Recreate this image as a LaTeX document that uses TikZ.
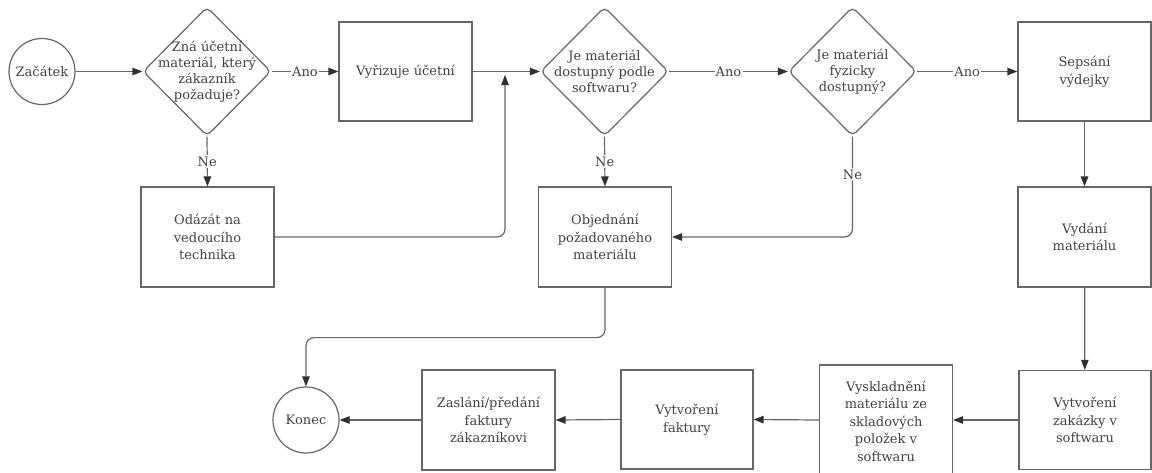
\documentclass[tikz,border=0pt]{standalone}
\usepackage{fontspec}
\setmainfont{DejaVu Serif}
\usetikzlibrary{arrows.meta,shapes.geometric,calc}
\definecolor{edge}{HTML}{666666}
\definecolor{ink}{HTML}{404040}
\definecolor{tipc}{HTML}{303030}

\begin{document}
\begin{tikzpicture}[x=1pt,y=-1pt,
  font=\fontsize{13}{17.5}\selectfont, text=ink,
  box/.style={draw=edge, line width=1.2pt, minimum width=133pt, minimum height=100pt,
    inner sep=2pt, align=center},
  dia/.style={draw=edge, line width=1.2pt, diamond, minimum width=128pt,
    minimum height=129pt, inner sep=0pt, rounded corners=5pt},
  dtext/.style={align=center, font=\fontsize{13}{16}\selectfont},
  term/.style={draw=edge, line width=1.2pt, circle, minimum size=66pt, inner sep=0pt},
  flow/.style={draw=edge, line width=1.2pt,
    -{Triangle[length=10pt,width=7.5pt,fill=tipc,color=tipc]}},
  lbl/.style={fill=white, inner sep=1.2pt}
]
\useasboundingbox (0,0) rectangle (1152,472);

% top row
\node[term] (start) at (42,71.5) {Začátek};
\node[dia] (d1) at (207,71.5) {};
\node[dtext] at (d1) {Zná účetní\\materiál, který\\zákazník\\požaduje?};
\node[box, minimum height=99pt] (b1) at (405.5,71.5) {Vyřizuje účetní};
\node[dia] (d2) at (604.5,71.5) {};
\node[dtext] at (d2) {Je materiál\\dostupný podle\\softwaru?};
\node[dia] (d3) at (852.5,71.5) {};
\node[dtext] at (d3) {Je materiál\\fyzicky\\dostupný?};
\node[box, minimum height=99pt] (b2) at (1084.5,71.5) {Sepsání\\výdejky};

% middle row
\node[box] (b3) at (207.5,237) {Odázát na\\vedoucího\\technika};
\node[box] (b4) at (605,237) {Objednání\\požadovaného\\materiálu};
\node[box] (b5) at (1084.5,237) {Vydání\\materiálu};

% bottom row
\node[box, minimum width=132pt, minimum height=99pt] (b6) at (1085,420) {Vytvoření\\zakázky v\\softwaru};
\node[box, minimum height=112pt] (b7) at (886,421) {Vyskladnění\\materiálu ze\\skladových\\položek v\\softwaru};
\node[box, minimum width=132pt, minimum height=99pt] (b8) at (687,419.5) {Vytvoření\\faktury};
\node[box] (b9) at (488.5,420) {Zaslání/předání\\faktury\\zákazníkovi};
\node[term] (end) at (306,420) {Konec};

% junction where the return path meets the main line
\coordinate (j) at (505,71.5);

% connectors
\draw[flow] (start) -- (d1.west);
\draw[flow] (d1.east) -- node[lbl]{Ano} (b1.west);
\draw[flow] (b1.east) -- (d2.west);
\draw[flow] (d2.east) -- node[lbl]{Ano} (d3.west);
\draw[flow] (d3.east) -- node[lbl]{Ano} (b2.west);
\draw[flow] (d1.south) -- node[lbl]{Ne} (b3.north);
\draw[flow] (d2.south) -- node[lbl]{Ne} (b4.north);
\draw[flow, rounded corners=8pt] (d3.south) -- node[lbl, pos=0.376]{Ne} (d3.south |- b4.east) -- (b4.east);
\draw[flow, rounded corners=8pt] (b3.east) -| ($(j)+(0,3.5)$);
\draw[flow] (b2) -- (b5);
\draw[flow] (b5) -- (b6);
\draw[flow] (b6.west) -- (b6.west -| b7.east);
\draw[flow] (b7.west |- b6.west) -- (b8.east);
\draw[flow] (b8.west) -- (b9.east);
\draw[flow] (b9.west) -- (end.east);
\draw[flow, rounded corners=8pt] (b4.south) -- ++(0,50) -| (end.north);
\end{tikzpicture}
\end{document}
